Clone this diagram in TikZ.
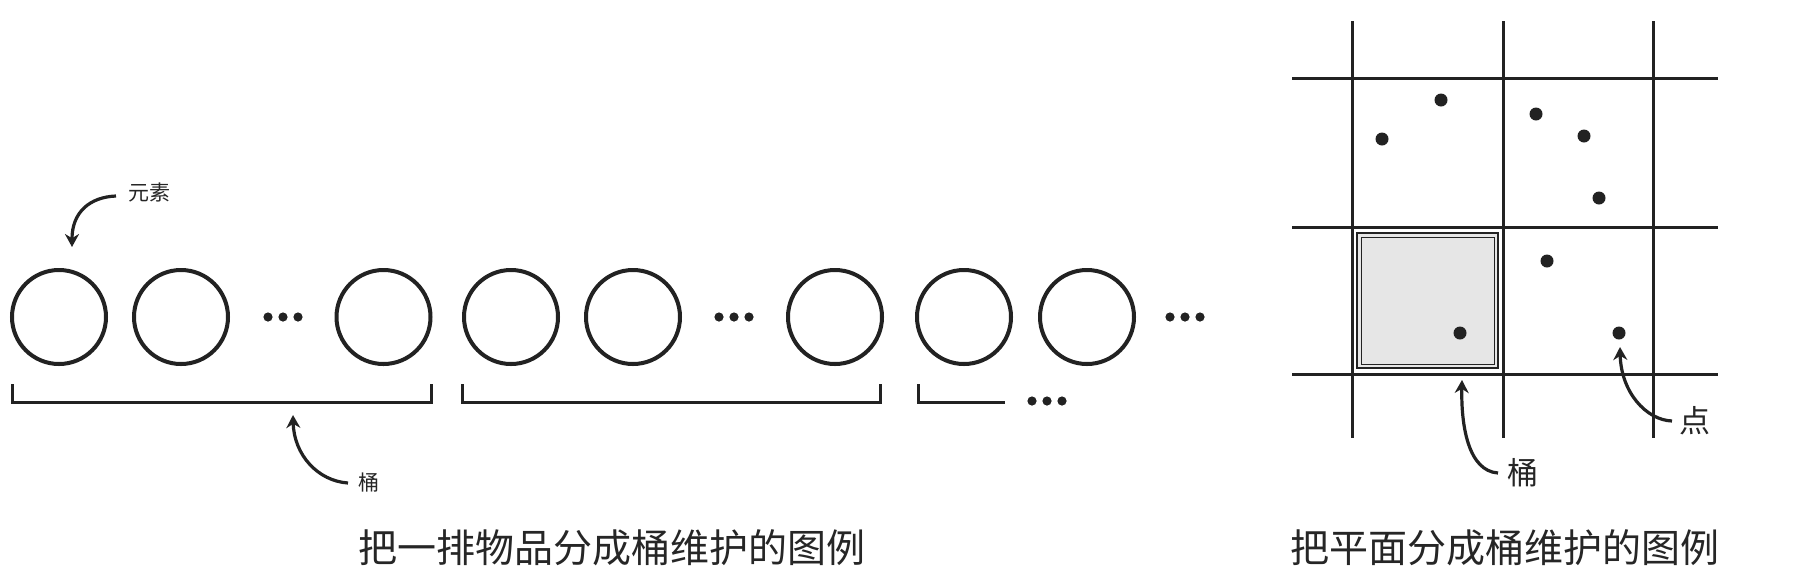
\documentclass[tikz,border=0pt]{standalone}
\usepackage{fontspec}
\setmainfont{Noto Sans CJK SC}
\usetikzlibrary{arrows.meta}
\definecolor{ink}{HTML}{222222}
\definecolor{txt}{HTML}{262626}
\definecolor{boxgray}{HTML}{E6E6E6}
\begin{document}
\begin{tikzpicture}[x=0.5pt,y=-0.5pt,
  elem/.style={circle,draw=ink,line width=2pt,minimum size=47pt,inner sep=0pt},
  bigdot/.style={circle,fill=ink,minimum size=4.6pt,inner sep=0pt},
  pt/.style={circle,fill=ink,minimum size=6.5pt,inner sep=0pt},
  brk/.style={draw=ink,line width=1.5pt},
  gridline/.style={draw=ink,line width=1.5pt},
  callout/.style={draw=ink,line width=1.6pt,-{Stealth[length=6.5pt,width=7pt]}},
  smalllbl/.style={text=txt,font=\fontsize{10.5pt}{12pt}\selectfont,inner sep=0pt,anchor=west},
  biglbl/.style={text=txt,font=\fontsize{15.5pt}{18pt}\selectfont,inner sep=0pt,anchor=west},
  caption/.style={text=txt,font=\fontsize{19.5pt}{22pt}\selectfont,inner sep=0pt}]
\useasboundingbox (0,0) rectangle (1804,580);
\fill[white] (0,0) rectangle (1804,580);

% ---------------- left panel: row of elements ----------------
\foreach \n/\x in {c1/59,c2/181,c3/383.5,c4/511,c5/633,c6/835,c7/964,c8/1087}
  \node[elem] (\n) at (\x,317) {};
\foreach \n/\x in {e1/283,e2/734,e3/1185}{
  \node[bigdot] (\n a) at (\x-15,317) {};
  \node[bigdot] (\n b) at (\x,317) {};
  \node[bigdot] (\n c) at (\x+15,317) {};
}
% buckets (brackets)
\draw[brk] (12,384) -- (12,402) -- (431,402) -- (431,384);
\draw[brk] (462,384) -- (462,402) -- (880,402) -- (880,384);
\draw[brk] (918,384) -- (918,402) -- (1005,402);
\node[bigdot] (b3a) at (1032,401) {};
\node[bigdot] (b3b) at (1047,401) {};
\node[bigdot] (b3c) at (1062,401) {};

% label: element
\node[smalllbl] (lelem) at (128,192) {元素};
\coordinate (telem) at (72,247);
\draw[callout] (lelem.west) ++(-12,4) .. controls (90,197) and (72,212) .. (telem);

% label: bucket (left)
\node[smalllbl] (lbk1) at (358,483) {桶};
\coordinate (tbk1) at (293,415);
\draw[callout] (lbk1.west) ++(-10,0) .. controls (318,481) and (294,455) .. (tbk1);

\node[caption] (cap1) at (612,548) {把一排物品分成桶维护的图例};

% ---------------- right panel: grid ----------------
\fill[boxgray] (1357,233) rectangle (1498,368);
\draw[ink,line width=1.2pt] (1357,233) rectangle (1498,368);
\draw[ink,line width=0.5pt] (1361,237) rectangle (1494,364);
\foreach \x in {1352,1503,1653}
  \draw[gridline] (\x,21) -- (\x,438);
\foreach \y in {78,227,374}
  \draw[gridline] (1292,\y) -- (1718,\y);

\foreach \n/\x/\y in {p1/1441/100,p2/1382/139,p3/1536/114,p4/1584/136,
                      p5/1599/198,p6/1547/261,p7/1460/333,p8/1619/333}
  \node[pt] (\n) at (\x,\y) {};

% label: bucket (right)
\node[biglbl] (lbk2) at (1507,473) {桶};
\coordinate (tbk2) at (1462,380);
\draw[callout] (lbk2.west) ++(-9,0) .. controls (1468,471) and (1461,425) .. (tbk2);

% label: point
\node[biglbl] (lpt) at (1679,421) {点};
\coordinate (tpt) at (1620,347);
\draw[callout] (lpt.west) ++(-7,0) .. controls (1646,420) and (1621,392) .. (tpt);

\node[caption] (cap2) at (1505,548) {把平面分成桶维护的图例};
\end{tikzpicture}
\end{document}
